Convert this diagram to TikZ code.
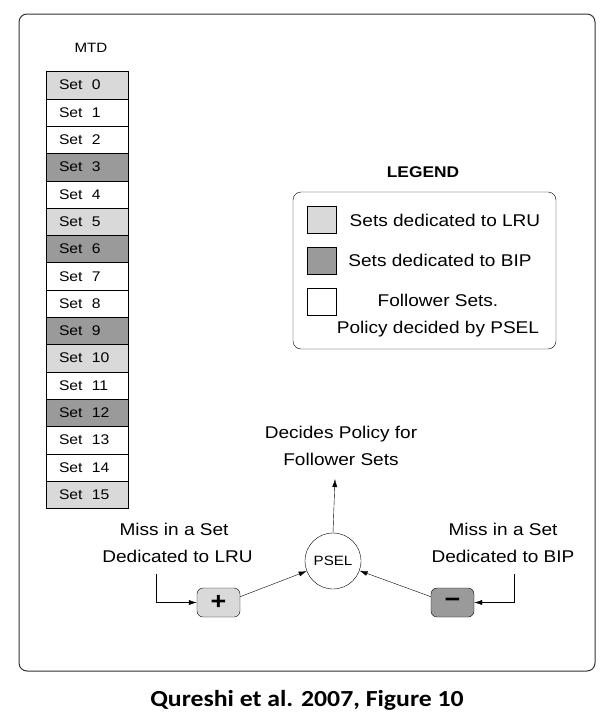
\documentclass[tikz,border=0pt]{standalone}
\usepackage{fontspec}
\setmainfont{Liberation Sans}[FakeStretch=1.12]
\newfontfamily\capfont{Carlito}[FakeStretch=1.12]
\usetikzlibrary{arrows.meta}
\definecolor{lrugray}{HTML}{D9D9D9}
\definecolor{bipgray}{HTML}{9A9A9A}
\begin{document}
\begin{tikzpicture}[x=1pt,y=-1pt,
  every node/.style={font=\fontsize{17}{27}\selectfont},
  cell/.style={draw,minimum width=82pt,minimum height=27.3pt,
    text width=56pt,inner xsep=13pt,align=left,
    font=\fontsize{14}{15}\selectfont},
  swatch/.style={draw,minimum width=29pt,minimum height=27pt},
  op/.style={draw,rounded corners=6pt,minimum width=43pt,
    minimum height=29pt,inner sep=0pt,font=\bfseries\fontsize{24}{24}\selectfont},
  arr/.style={-{Latex[length=8pt,width=5pt]}}]
\useasboundingbox (0,0) rectangle (613,716);
\draw[black!80,line width=1pt,rounded corners=8pt] (19,14) rectangle (595,671);
% the MTD column
\node[font=\fontsize{13.5}{15}\selectfont] (mtd) at (91,48) {MTD};
\foreach \i/\c in {0/lrugray,1/white,2/white,3/bipgray,4/white,5/lrugray,
  6/bipgray,7/white,8/white,9/bipgray,10/lrugray,11/white,12/bipgray,
  13/white,14/white,15/lrugray}
  \node[cell,fill=\c] (set\i) at (87,{85.15+27.3*\i}) {Set~~\i};
% legend
\node[font=\bfseries\fontsize{15.5}{18}\selectfont] (legend) at (423,172) {LEGEND};
\draw[rounded corners=8pt] (293,192) rectangle (556,349);
\node[swatch,fill=lrugray] (swlru) at (321.5,220) {};
\node[swatch,fill=bipgray] (swbip) at (321.5,260.5) {};
\node[swatch,fill=white] (swfol) at (321.5,302) {};
\node (txlru) at (445,220) {Sets dedicated to LRU};
\node (txbip) at (440,260) {Sets dedicated to BIP};
\node[align=center] (txfol) at (438,316) {Follower Sets.\\Policy decided by PSEL};
% PSEL and the two counters
\node[draw,circle,minimum size=56pt,inner sep=0pt,
  font=\fontsize{13.5}{15}\selectfont] (psel) at (333,561) {PSEL};
\node[op,fill=lrugray] (plus) at (218.5,602.5) {+};
\node[op,fill=bipgray] (minus) at (452.5,602.5) {−};
\node[align=center] (decides) at (341,445.5) {Decides Policy for\\Follower Sets};
\node[align=center] (misslru) at (174,542.5) {Miss in a Set\\\hspace*{7pt}Dedicated to LRU};
\node[align=center] (missbip) at (503,542.5) {Miss in a Set\\Dedicated to BIP};
\coordinate (lruin) at (156,574);
\coordinate (bipin) at (514,574);
\draw[arr] (lruin) |- (plus.west);
\draw[arr] (bipin) |- (minus.east);
\draw[arr] (plus.15) -- (psel);
\draw[arr] (minus.165) -- (psel);
\draw[arr] (psel.north) -- (335,479);
% caption
\node[font=\capfont\bfseries\fontsize{23}{27}\selectfont] (caption) at (307,700)
  {Qureshi et al. 2007, Figure 10};
\end{tikzpicture}
\end{document}
